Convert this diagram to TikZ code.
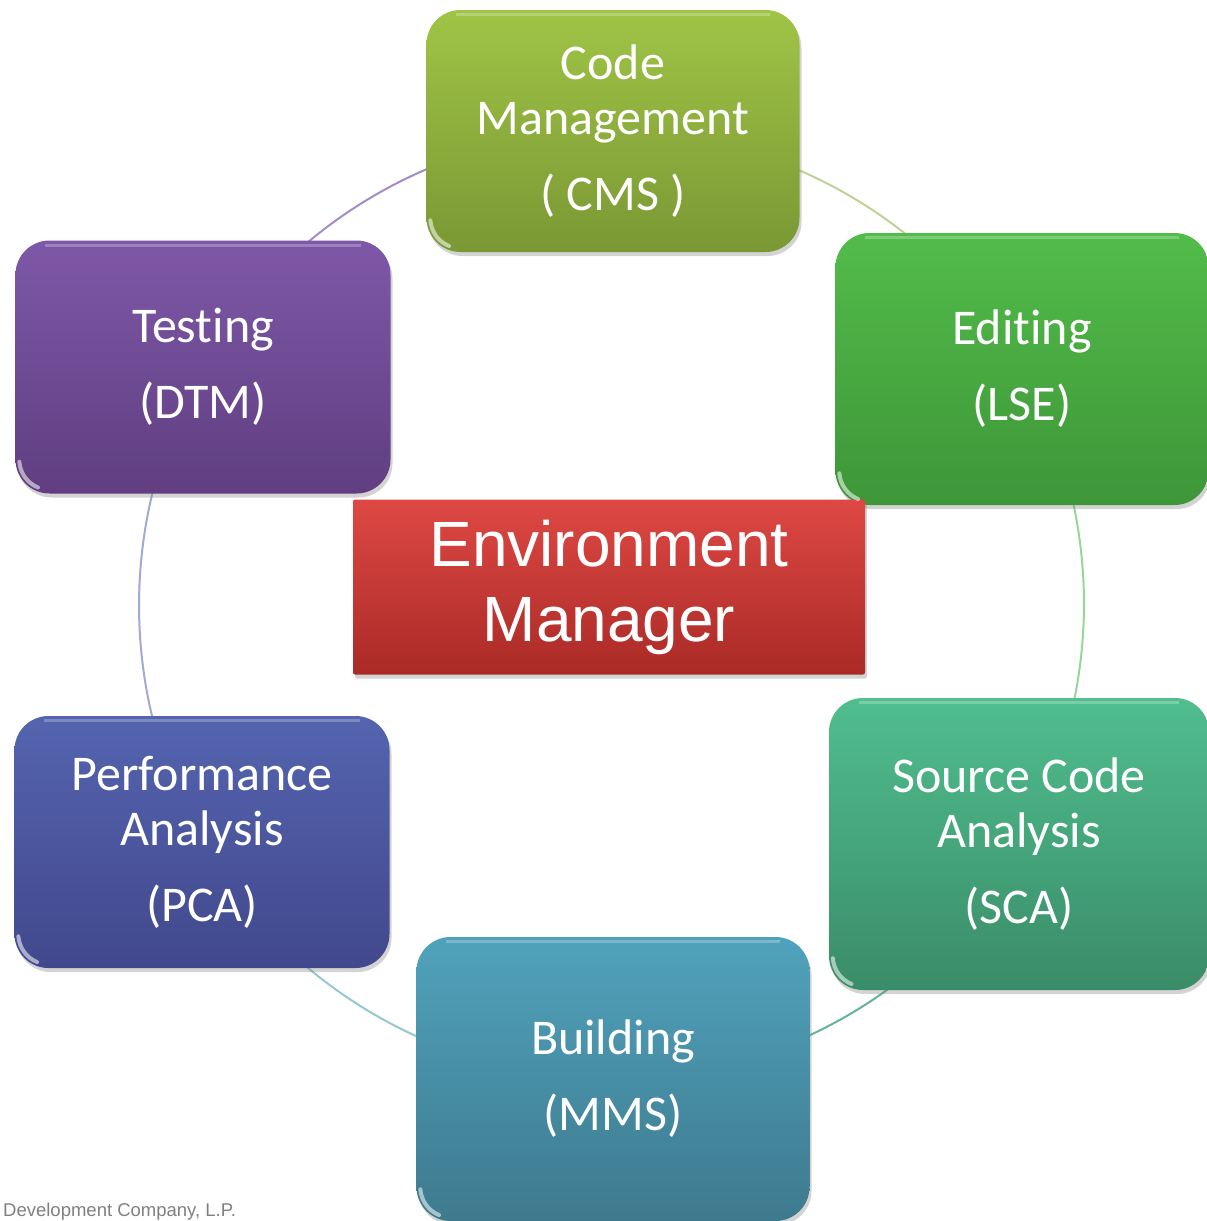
\documentclass[tikz,border=0pt]{standalone}
\usepackage{fontspec}
\setmainfont{Carlito}[Ligatures=NoCommon]
\newfontfamily\arialfont{Liberation Sans}
\usetikzlibrary{shadows,calc,backgrounds}
\definecolor{cmstop}{RGB}{160,196,70}
\definecolor{cmsbot}{RGB}{122,152,52}
\definecolor{edittop}{RGB}{82,188,74}
\definecolor{editbot}{RGB}{62,150,56}
\definecolor{scatop}{RGB}{80,190,142}
\definecolor{scabot}{RGB}{58,140,104}
\definecolor{bldtop}{RGB}{80,162,188}
\definecolor{bldbot}{RGB}{62,122,142}
\definecolor{pcatop}{RGB}{84,100,175}
\definecolor{pcabot}{RGB}{66,72,140}
\definecolor{tsttop}{RGB}{126,88,168}
\definecolor{tstbot}{RGB}{96,62,128}
\definecolor{envtop}{RGB}{222,72,68}
\definecolor{envbot}{RGB}{170,42,38}
\definecolor{footgray}{RGB}{128,128,128}

\begin{document}
\begin{tikzpicture}[x=1pt,y=-1pt,
  box/.style={rounded corners=34, inner sep=0, align=center, text=white,
    font=\fontsize{50}{55}\selectfont,
    drop shadow={opacity=.35, shadow xshift=2pt, shadow yshift=-4pt}},
  ring/.style={line width=2, bend left=30, looseness=.91}]
\useasboundingbox (0,0) rectangle (1207,1221);
\clip (0,0) rectangle (1207,1221);
\node [box, top color=cmstop, bottom color=cmsbot, minimum width=373, minimum height=242] (cms) at (613,131) {Code\\Management\\[21pt]( CMS )};
\node [box, top color=edittop, bottom color=editbot, minimum width=373, minimum height=272] (editing) at (1022,369) {Editing\\[21pt](LSE)};
\node [box, top color=scatop, bottom color=scabot, minimum width=380, minimum height=292] (sca) at (1019,844) {Source Code\\Analysis\\[21pt](SCA)};
\node [box, top color=bldtop, bottom color=bldbot, minimum width=393, minimum height=284] (building) at (613,1079) {Building\\[21pt](MMS)};
\node [box, top color=pcatop, bottom color=pcabot, minimum width=375, minimum height=252] (pca) at (202,842) {Performance\\Analysis\\[21pt](PCA)};
\node [box, top color=tsttop, bottom color=tstbot, minimum width=375, minimum height=253] (testing) at (203,367) {Testing\\[21pt](DTM)};
\node [rounded corners=2, inner sep=0, align=center, text=white, top color=envtop, bottom color=envbot,
  minimum width=512, minimum height=175, font=\arialfont\fontsize{64}{75}\selectfont,
  drop shadow={opacity=.35, shadow xshift=2pt, shadow yshift=-4pt}] (env) at (609,587) {Environment\\Manager};
% glossy corners and top edges
\foreach \b in {cms,editing,sca,building,pca,testing}{
  \draw [white, opacity=.55, line width=4, line cap=round] ($(\b.south west)+(34,-34)$) ++(176:30) arc (176:112:30);
  \draw [white, opacity=.25, line width=3] ($(\b.north west)+(30,5)$) -- ($(\b.north east)+(-30,5)$);
}
\node [anchor=base west, inner sep=0, text=footgray, font=\arialfont\fontsize{18.5}{20}\selectfont] (footer) at (3,1216) {Development Company, L.P.};
% ring behind the boxes
\begin{scope}[on background layer]
\draw [ring, color={rgb,255:red,190;green,210;blue,150}] (cms.center) to (editing.center);
\draw [ring, color={rgb,255:red,150;green,215;blue,150}] (editing.center) to (sca.center);
\draw [ring, color={rgb,255:red,100;green,180;blue,150}] (sca.center) to (building.center);
\draw [ring, color={rgb,255:red,150;green,200;blue,210}] (building.center) to (pca.center);
\draw [ring, color={rgb,255:red,160;green,170;blue,210}] (pca.center) to (testing.center);
\draw [ring, color={rgb,255:red,165;green,140;blue,200}] (testing.center) to (cms.center);
\end{scope}
\end{tikzpicture}
\end{document}
